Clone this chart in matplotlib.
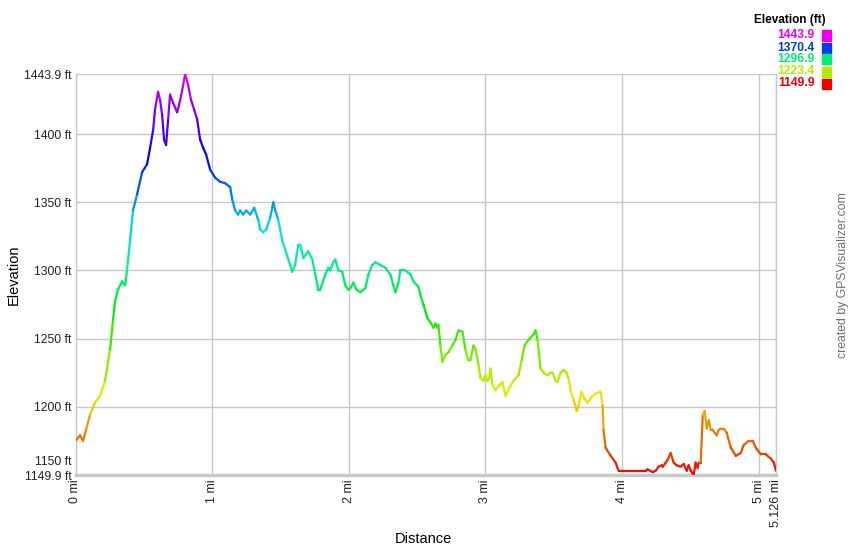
import numpy as np
import matplotlib
matplotlib.use("Agg")
import matplotlib.pyplot as plt
from matplotlib.collections import LineCollection
from matplotlib.colors import hsv_to_rgb
from matplotlib.transforms import ScaledTranslation

plt.rcParams['font.family'] = ['Liberation Sans', 'DejaVu Sans']

distance_mi = [0.000, 0.033, 0.055, 0.077, 0.106, 0.143, 0.179, 0.216, 0.253, 0.275, 0.289, 0.311, 0.341, 0.363, 0.377,
               0.399, 0.421, 0.451, 0.487, 0.524, 0.546, 0.568, 0.582, 0.604, 0.619, 0.634, 0.648, 0.663, 0.678, 0.692,
               0.714, 0.744, 0.766, 0.788, 0.802, 0.824, 0.846, 0.868, 0.890, 0.912, 0.934, 0.956, 0.985, 1.022, 1.059,
               1.095, 1.132, 1.147, 1.168, 1.190, 1.205, 1.227, 1.249, 1.278, 1.308, 1.337, 1.352, 1.374, 1.396, 1.425,
               1.440, 1.447, 1.462, 1.484, 1.513, 1.535, 1.571, 1.586, 1.608, 1.630, 1.645, 1.667, 1.703, 1.733, 1.755,
               1.777, 1.791, 1.828, 1.850, 1.865, 1.886, 1.901, 1.923, 1.952, 1.974, 1.996, 2.011, 2.033, 2.055, 2.084,
               2.121, 2.143, 2.172, 2.194, 2.231, 2.267, 2.304, 2.326, 2.341, 2.363, 2.377, 2.414, 2.451, 2.473, 2.509,
               2.524, 2.546, 2.575, 2.597, 2.619, 2.634, 2.648, 2.656, 2.670, 2.685, 2.707, 2.729, 2.758, 2.780, 2.802,
               2.832, 2.853, 2.875, 2.890, 2.912, 2.927, 2.949, 2.963, 2.985, 3.000, 3.015, 3.029, 3.037, 3.051, 3.073,
               3.103, 3.125, 3.147, 3.176, 3.205, 3.242, 3.264, 3.286, 3.315, 3.352, 3.366, 3.381, 3.403, 3.425, 3.454,
               3.476, 3.491, 3.513, 3.527, 3.549, 3.571, 3.593, 3.608, 3.623, 3.645, 3.667, 3.681, 3.703, 3.725, 3.747,
               3.784, 3.813, 3.842, 3.857, 3.864, 3.879, 3.916, 3.952, 3.974, 3.989, 4.026, 4.077, 4.121, 4.172, 4.187,
               4.223, 4.245, 4.267, 4.289, 4.297, 4.319, 4.333, 4.355, 4.377, 4.399, 4.428, 4.451, 4.473, 4.487, 4.502,
               4.524, 4.538, 4.553, 4.560, 4.575, 4.590, 4.604, 4.619, 4.634, 4.648, 4.663, 4.677, 4.692, 4.707, 4.722,
               4.743, 4.765, 4.795, 4.832, 4.868, 4.890, 4.927, 4.956, 4.978, 5.015, 5.051, 5.088, 5.110, 5.126]

elevation_ft = [1175, 1179, 1175, 1183, 1194, 1203, 1208, 1219, 1242, 1264, 1277, 1286, 1292, 1289, 1300,
                1322, 1344, 1356, 1372, 1378, 1390, 1403, 1418, 1431, 1425, 1414, 1396, 1392, 1411, 1429,
                1423, 1416, 1425, 1436, 1443.9, 1436, 1425, 1418, 1411, 1396, 1390, 1385, 1374, 1368, 1365,
                1364, 1361, 1352, 1344, 1341, 1344, 1341, 1344, 1341, 1346, 1337, 1330, 1328, 1330, 1339,
                1346, 1350, 1344, 1337, 1322, 1315, 1304, 1299, 1304, 1319, 1319, 1309, 1314, 1308, 1297,
                1286, 1286, 1297, 1302, 1300, 1306, 1308, 1300, 1299, 1289, 1286, 1287, 1291, 1286, 1284,
                1287, 1297, 1304, 1306, 1304, 1302, 1297, 1289, 1284, 1291, 1300, 1300, 1297, 1292, 1288,
                1282, 1275, 1265, 1262, 1258, 1261, 1258, 1260, 1245, 1233, 1238, 1240, 1245, 1249, 1256,
                1255, 1242, 1234, 1234, 1245, 1242, 1231, 1221, 1219, 1223, 1219, 1221, 1228, 1216, 1212,
                1216, 1218, 1208, 1214, 1219, 1223, 1234, 1245, 1249, 1253, 1256, 1249, 1228, 1225, 1223,
                1225, 1225, 1219, 1218, 1225, 1227, 1225, 1221, 1212, 1205, 1197, 1201, 1211, 1206, 1203,
                1208, 1210, 1211, 1201, 1183, 1170, 1164, 1159, 1153, 1153, 1153, 1153, 1153, 1153, 1154,
                1152, 1153, 1156, 1157, 1156, 1159, 1161, 1166, 1159, 1157, 1156, 1158, 1153, 1157, 1153,
                1149.9, 1159, 1155, 1159, 1159, 1194, 1197, 1184, 1190, 1183, 1183, 1181, 1179, 1183, 1184,
                1184, 1181, 1170, 1164, 1166, 1172, 1175, 1175, 1170, 1165, 1165, 1162, 1159, 1153]

y_min, y_max = 1149.9, 1443.9
x_max = 5.126
y_ticks = [1149.9, 1150, 1200, 1250, 1300, 1350, 1400, 1443.9]
y_tick_labels = ["1149.9 ft", "1150 ft", "1200 ft", "1250 ft", "1300 ft", "1350 ft", "1400 ft", "1443.9 ft"]
x_ticks = [0, 1, 2, 3, 4, 5, 5.126]
x_tick_labels = ["0 mi", "1 mi", "2 mi", "3 mi", "4 mi", "5 mi", "5.126 mi"]
legend_values = ["1443.9", "1370.4", "1296.9", "1223.4", "1149.9"]


def elev_color(v):
    t = (v - y_min) / (y_max - y_min)
    t = min(max(t, 0), 1)
    return hsv_to_rgb([t * 300 / 360, 1.0, 0.93])


fig = plt.figure(figsize=(8.5, 5.5), dpi=100)
ax = fig.add_axes([75.5 / 850, 1 - 475 / 550, (776 - 75.5) / 850, (475 - 74.3) / 550])

x = np.array(distance_mi)
y = np.array(elevation_ft)
pts = np.column_stack([x, y]).reshape(-1, 1, 2)
segs = np.concatenate([pts[:-1], pts[1:]], axis=1)
cols = [elev_color((y[i] + y[i + 1]) / 2) for i in range(len(y) - 1)]
lc = LineCollection(segs, colors=cols, linewidths=1.6, capstyle='round', joinstyle='round', zorder=3)
ax.add_collection(lc)

ax.set_xlim(0, x_max)
ax.set_ylim(y_min, y_max)

ax.set_yticks(y_ticks)
ax.set_yticklabels(y_tick_labels, fontsize=8.7, color='#222222')
ax.set_xticks(x_ticks)
ax.set_xticklabels(x_tick_labels, rotation=90, fontsize=9, color='#222222')
ax.tick_params(axis='both', length=0, pad=3)

# shift "1150 ft" label up to avoid overlapping "1149.9 ft"
lbl = ax.get_yticklabels()[1]
lbl.set_transform(lbl.get_transform() + ScaledTranslation(0, 10 / 72, fig.dpi_scale_trans))

ax.grid(True, color='#c8c8c8', linewidth=1.0, zorder=0)
for side in ['left', 'right', 'top']:
    ax.spines[side].set_color('#c8c8c8')
    ax.spines[side].set_linewidth(1.0)
ax.spines['top'].set_visible(False)
ax.spines['bottom'].set_color('#c8c8c8')
ax.spines['bottom'].set_linewidth(2.5)

fig.text(423 / 850, 1 - 539 / 550, "Distance", fontsize=10.5, ha='center', va='center')
fig.text(14 / 850, 1 - 275 / 550, "Elevation", fontsize=10.5, rotation=90, ha='center', va='center')

# legend
fig.text(826 / 850, 1 - 20 / 550, "Elevation (ft)", fontsize=8.5, fontweight='bold',
         ha='right', va='center', color='black')
for i, val in enumerate(legend_values):
    yy = 1 - (35.5 + i * 12) / 550
    c = elev_color(float(val))
    fig.text(815 / 850, yy, val, fontsize=8.7, fontweight='bold', color=c, ha='right', va='center')
    fig.patches.append(plt.Rectangle((822 / 850, yy - 5 / 550), 9 / 850, 10 / 550,
                                     transform=fig.transFigure, color=c, figure=fig))

fig.text(843 / 850, 1 - 275 / 550, "created by GPSVisualizer.com", rotation=90, fontsize=8.8,
         color='#6f6f6f', ha='center', va='center')

fig.savefig("out.png", dpi=100)
